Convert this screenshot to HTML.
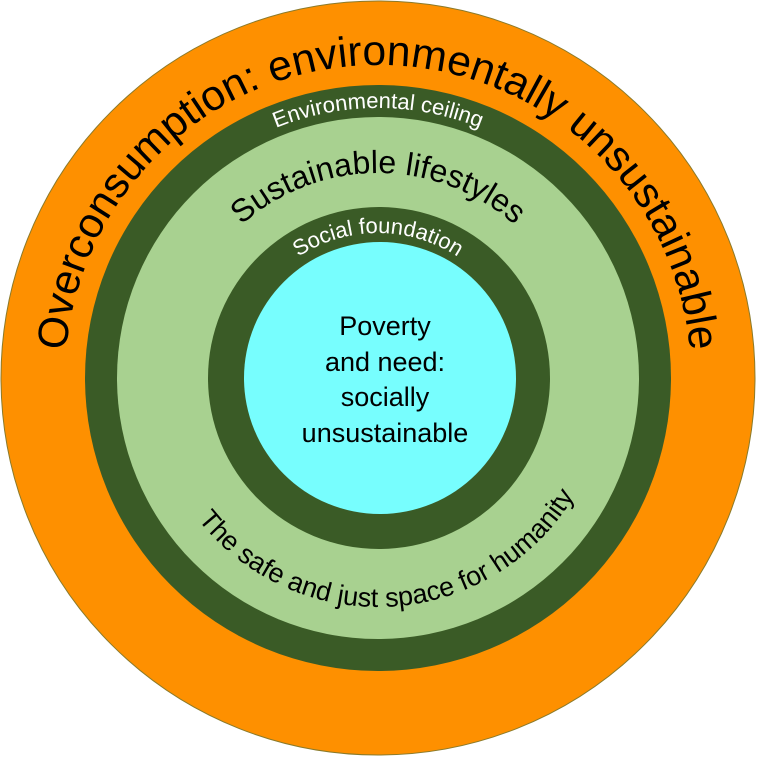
<!DOCTYPE html>
<html><head><meta charset="utf-8"><style>html,body{margin:0;padding:0;background:#fff}svg{display:block}</style></head>
<body>
<svg width="757" height="757" viewBox="0 0 757 757" xmlns="http://www.w3.org/2000/svg" font-family="'Liberation Sans', sans-serif">
<defs>
<path id="p1" d="M378,691 A313,313 0 1 1 378,65 A313,313 0 1 1 378,691"/>
<path id="p2" d="M378,648 A270,270 0 1 1 378,108 A270,270 0 1 1 378,648"/>
<path id="p3" d="M378,583 A205,205 0 1 1 378,173 A205,205 0 1 1 378,583"/>
<path id="p4" d="M378,523 A145,145 0 1 1 378,233 A145,145 0 1 1 378,523"/>
<path id="p5" d="M149,378 A229,229 0 0 0 607,378"/>
</defs>
<circle cx="378" cy="378" r="377" fill="#fe9000" stroke="#8a7a2a" stroke-width="1"/>
<circle cx="378" cy="378" r="293" fill="#3a5b26"/>
<circle cx="378" cy="378" r="261" fill="#a8d190"/>
<circle cx="379" cy="378" r="171" fill="#3a5b26"/>
<circle cx="380" cy="378" r="136" fill="#77fefe"/>
<text font-size="42.5" fill="#000"><textPath href="#p1" startOffset="50%" text-anchor="middle">Overconsumption: environmentally unsustainable</textPath></text>
<text font-size="22" fill="#fff"><textPath href="#p2" startOffset="50%" text-anchor="middle">Environmental ceiling</textPath></text>
<text font-size="32" fill="#000"><textPath href="#p3" startOffset="50%" text-anchor="middle">Sustainable lifestyles</textPath></text>
<text font-size="22" fill="#fff"><textPath href="#p4" startOffset="50%" text-anchor="middle">Social foundation</textPath></text>
<text font-size="27" fill="#000"><textPath href="#p5" startOffset="52%" text-anchor="middle">The safe and just space for humanity</textPath></text>
<g font-size="27" fill="#000" text-anchor="middle">
<text x="385" y="335">Poverty</text>
<text x="385" y="371">and need:</text>
<text x="385" y="406">socially</text>
<text x="385" y="442">unsustainable</text>
</g>
</svg>
</body></html>
